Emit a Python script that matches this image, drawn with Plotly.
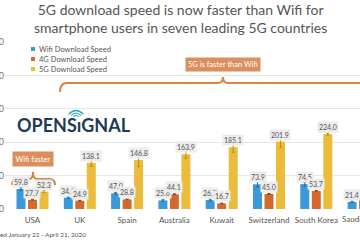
import plotly.graph_objects as go

countries = ["USA", "UK", "Spain", "Australia", "Kuwait", "Switzerland", "South Korea", "Saudi Arabia"]
wifi = [59.8, 34.1, 47.0, 25.6, 26.7, 73.9, 74.5, 21.4]
g4 = [27.7, 24.9, 28.8, 44.1, 16.7, 45.0, 53.7, 30.1]
g5 = [52.3, 138.1, 146.8, 163.9, 185.1, 201.9, 224.0, 144.5]
wifi_err = [4, 2, 3, 2, 3, 8, 6, 2]
g4_err = [1.5, 1, 1, 1.5, 1, 1.5, 1.5, 1]
g5_err = [3, 10, 20, 12, 15, 18, 3, 15]
series_names = ["Wifi Download Speed", "4G Download Speed", "5G Download Speed"]
y_ticks = [0, 100, 200, 300, 400, 500]

colors = ["#3a9ad9", "#d4692d", "#ebbb3b"]
err_colors = ["#1f6aa0", "#9a4516", "#b88d1c"]

W, H = 360, 240
PX0, PX1, PY0, PY1 = 5, 360, 42, 209


def px(x):
    return (x - PX0) / (PX1 - PX0)


def py(y):
    return (PY1 - y) / (PY1 - PY0)


fig = go.Figure()
for name, vals, errs, c, ec in zip(series_names, [wifi, g4, g5], [wifi_err, g4_err, g5_err], colors, err_colors):
    fig.add_bar(x=countries, y=vals, name=name, marker=dict(color=c, line=dict(width=0)),
                error_y=dict(type="data", array=errs, color=ec, thickness=1, width=1.5),
                showlegend=False)

slot = 0.243
annotations = []
for i, vals in enumerate([wifi, g4, g5]):
    for j, v in enumerate(vals):
        annotations.append(dict(x=j + (i - 1) * slot, y=v, xref="x", yref="y", text=f"{v:.1f}",
                                showarrow=False, xanchor="center", yanchor="bottom", yshift=1,
                                font=dict(size=7, color="#555", family="Lato"),
                                bgcolor="#ececec", borderpad=1))


def pa(x, y, text, size, color, xanchor="center", **kw):
    d = dict(x=px(x), y=py(y), xref="paper", yref="paper", text=text, showarrow=False,
             xanchor=xanchor, yanchor="middle", font=dict(size=size, color=color, family="Lato"))
    d.update(kw)
    annotations.append(d)


# Saudi Arabia category label (center beyond right edge)
pa(363.5, 219, "Saudi Arabia", 8, "#555")

# Title
pa(180, 19, "5G download speed is now faster than Wifi for<br>smartphone users in seven leading 5G countries",
   14, "#555", align="center")

# Legend
shapes = []
for k, (name, c) in enumerate(zip(series_names, colors)):
    yc = 49 + 10 * k
    shapes.append(dict(type="rect", xref="paper", yref="paper", x0=px(31), x1=px(35),
                       y0=py(yc + 2), y1=py(yc - 2), fillcolor=c, line=dict(width=0)))
    pa(37, yc, name, 7.5, "#555", xanchor="left")

# Callout boxes
box = "#dc8f5c"
brace = "#d8833f"
pa(222.5, 64, "5G is faster than Wifi", 7.5, "white", bgcolor=box, borderpad=2)
pa(32.5, 159, "Wifi faster", 7.5, "white", bgcolor=box, borderpad=2.5)


def path(points):
    s = ""
    for cmd, pts in points:
        s += cmd + " " + " ".join(f"{px(a):.5f},{py(b):.5f}" for a, b in pts) + " "
    return s.strip()


big = path([("M", [(60, 92)]), ("Q", [(60, 83), (67, 83)]), ("L", [(218, 83)]),
            ("Q", [(223, 83), (223, 77)]), ("Q", [(223, 83), (228, 83)]), ("L", [(379, 83)]),
            ("Q", [(386, 83), (386, 92)])])
small = path([("M", [(12, 185)]), ("Q", [(12, 179), (17, 179)]), ("L", [(29, 179)]),
              ("Q", [(33, 179), (33, 172)]), ("Q", [(33, 179), (37, 179)]), ("L", [(50, 179)]),
              ("Q", [(55, 179), (55, 185)])])
shapes.append(dict(type="path", xref="paper", yref="paper", path=big, line=dict(color=brace, width=2)))
shapes.append(dict(type="path", xref="paper", yref="paper", path=small, line=dict(color=brace, width=2)))

# Logo
pa(15, 125, "<b>OPENSıGNAL</b>", 18, "#1f3b53", xanchor="left")
teal = "#2aa9c3"
for r in [2.5, 5, 7.5]:
    arc = path([("M", [(76 - r, 118 - r * 0.5)]), ("Q", [(76, 118 - r * 1.5), (76 + r, 118 - r * 0.5)])])
    shapes.append(dict(type="path", xref="paper", yref="paper", path=arc, line=dict(color=teal, width=1.2)))

# Footer
pa(88, 234, "Data collected January 22 - April 21, 2020", 6.5, "#555", xanchor="right")

fig.update_layout(
    width=W, height=H,
    margin=dict(l=PX0, r=W - PX1, t=PY0, b=H - PY1, pad=0),
    paper_bgcolor="white", plot_bgcolor="white",
    barmode="group", bargap=0.271, bargroupgap=0.218,
    xaxis=dict(range=[-0.581, 6.924], showgrid=False, showline=False, zeroline=False, ticks="",
               tickangle=0, ticklabelstandoff=5, tickfont=dict(size=8, color="#555", family="Lato"),
               automargin=False, fixedrange=True),
    yaxis=dict(range=[0, 500], tickvals=y_ticks, gridcolor="#e6e6e6", gridwidth=1, zeroline=False,
               showline=False, ticks="", tickfont=dict(size=9, color="#777", family="Lato"),
               automargin=False, fixedrange=True),
    annotations=annotations, shapes=shapes, showlegend=False,
    font=dict(family="Lato"),
)

fig.write_html("out.html", config={"displayModeBar": False})
